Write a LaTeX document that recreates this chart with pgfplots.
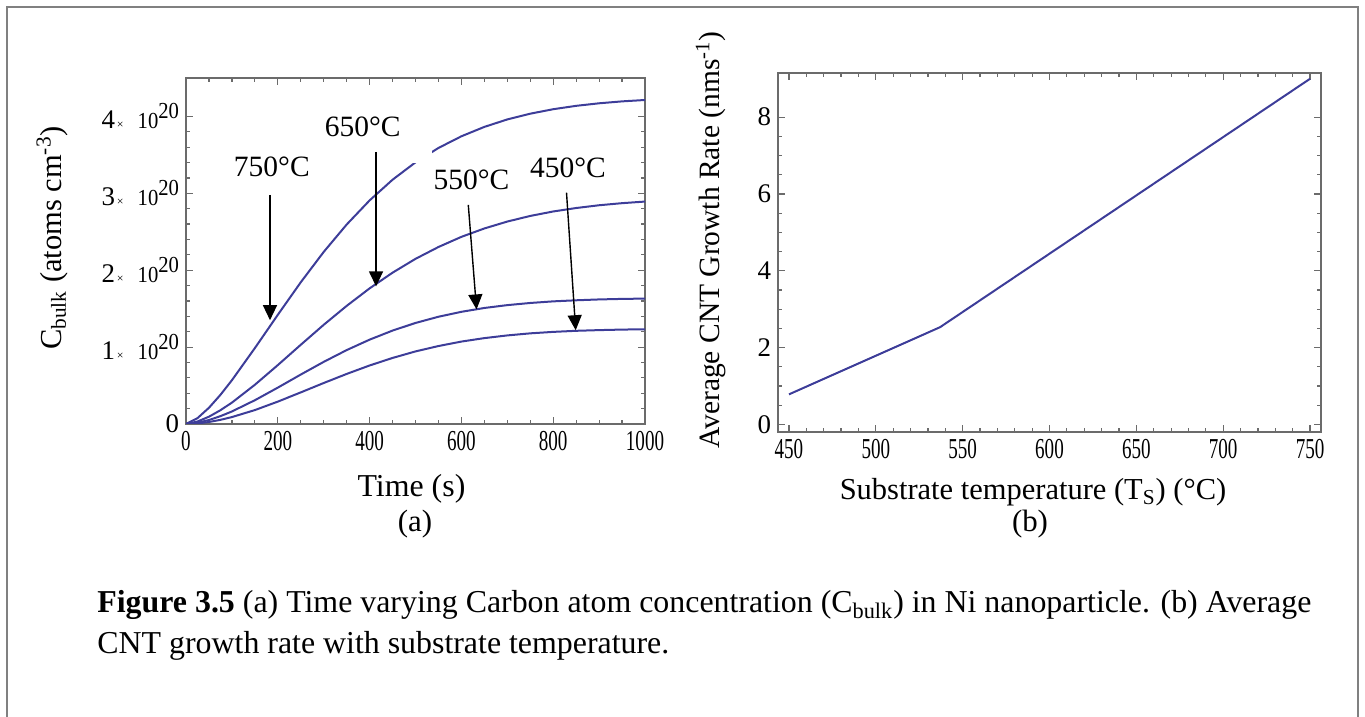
\documentclass[border=0pt]{standalone}
\usepackage{fontspec}
\setmainfont{Liberation Serif}
\usepackage{graphicx}
\usepackage{pgfplots}
\pgfplotsset{compat=1.18}
\usetikzlibrary{arrows.meta}

\definecolor{curve}{rgb}{0.24,0.24,0.6}
\definecolor{framegray}{gray}{0.42}
\definecolor{boxgray}{gray}{0.5}

% condensed tick numerals
\newcommand\cx[1]{\scalebox{0.66}[1]{#1}}
% "n x 10^20" tick labels of the concentration axis
\newcommand\ylab[1]{#1{\fontsize{6}{7}\selectfont\,×}\hspace{7bp}{\fontsize{11.5}{12}\selectfont\scalebox{0.9}[1]{10\raisebox{5bp}{20}}}}
\newcommand\tempfont{\fontsize{14.8}{16}\selectfont}

% C_bulk (10^20 atoms cm^-3) against time for the four substrate temperatures
\pgfplotstableread{
t    c750   c650   c550   c450
0    0      0      0      0
25   0.076  0.032  0.016  0.007
50   0.211  0.095  0.052  0.026
75   0.379  0.179  0.102  0.054
100  0.569  0.278  0.163  0.090
150  0.987  0.510  0.309  0.181
200  1.420  0.766  0.473  0.291
250  1.843  1.030  0.643  0.411
300  2.238  1.290  0.808  0.533
350  2.594  1.536  0.961  0.651
400  2.908  1.764  1.097  0.761
450  3.177  1.968  1.215  0.859
500  3.403  2.148  1.314  0.944
550  3.590  2.302  1.395  1.014
600  3.742  2.434  1.459  1.072
650  3.864  2.543  1.509  1.117
700  3.961  2.633  1.546  1.152
750  4.036  2.706  1.574  1.179
800  4.094  2.764  1.595  1.198
850  4.138  2.809  1.609  1.212
900  4.171  2.845  1.620  1.221
950  4.196  2.872  1.627  1.228
1000 4.214  2.893  1.631  1.232
}\cbulk

% average growth rate (nm/s) against substrate temperature
\pgfplotstableread{
T    rate
450  0.78
537  2.53
750  9.00
}\growth

\pgfplotsset{
  mmaframe/.style={
    scale only axis,
    axis line style={framegray, line width=0.7bp},
    every tick/.style={framegray, line width=0.6bp},
    tick align=inside,
    major tick length=3.6bp,
    minor tick length=2bp,
    tick label style={font=\fontsize{13.5}{14}\selectfont, black},
    xticklabel style={font=\fontsize{14.5}{15}\selectfont},
  },
}

\begin{document}
\begin{tikzpicture}
\useasboundingbox (0,0) rectangle (682.5bp,358.5bp);
\draw[boxgray, line width=0.8bp] (3.5bp,-2bp) -- (3.5bp,355bp) -- (679bp,355bp) -- (679bp,-2bp);

% (a) carbon concentration in the particle
\begin{axis}[mmaframe,
  at={(93bp,146.5bp)}, anchor=south west,
  width=229.5bp, height=173bp,
  xmin=0, xmax=1000, ymin=0, ymax=4.5,
  xtick={0,200,400,600,800,1000},
  xticklabels={\cx{0},\cx{200},\cx{400},\cx{600},\cx{800},\cx{1000}},
  ytick={0,1,2,3,4},
  yticklabels={0,\ylab{1},\ylab{2},\ylab{3},\ylab{4}},
  minor x tick num=3, minor y tick num=4,
]
\addplot[curve, line width=1bp] table[x=t, y=c750] {\cbulk};
\addplot[curve, line width=1bp] table[x=t, y=c650] {\cbulk};
\addplot[curve, line width=1bp] table[x=t, y=c550] {\cbulk};
\addplot[curve, line width=1bp] table[x=t, y=c450] {\cbulk};
% text box of the 650 label
\fill[white] (axis cs:305,3.40) rectangle (axis cs:535,4.06);
\node[font=\tempfont] at (axis cs:187,3.35) {750°C};
\node[font=\tempfont] at (axis cs:385,3.86) {650°C};
\node[font=\tempfont] at (axis cs:622,3.17) {550°C};
\node[font=\tempfont] at (axis cs:832,3.33) {450°C};
\begin{scope}[line width=0.7bp, -{Triangle[width=7bp,length=7.5bp]}]
\draw (axis cs:183,2.98) -- (axis cs:183,1.35);
\draw (axis cs:414,3.54) -- (axis cs:414,1.79);
\draw (axis cs:615,2.85) -- (axis cs:633,1.49);
\draw (axis cs:829,3.01) -- (axis cs:849,1.22);
\end{scope}
\end{axis}

% (b) growth rate
\begin{axis}[mmaframe,
  at={(389bp,142.5bp)}, anchor=south west,
  width=271.5bp, height=179.5bp,
  xmin=443.7, xmax=756.3, ymin=-0.2, ymax=9.15,
  xtick={450,500,550,600,650,700,750},
  xticklabels={\cx{450},\cx{500},\cx{550},\cx{600},\cx{650},\cx{700},\cx{750}},
  ytick={0,2,4,6,8},
  yticklabels={0,2,4,6,8},
  minor x tick num=4, minor y tick num=3,
]
\addplot[curve, line width=1bp] table[x=T, y=rate] {\growth};
\end{axis}

\node[font=\fontsize{15.3}{17}\selectfont, rotate=90] at (26bp,239.5bp) {C\textsubscript{bulk} (atoms cm\textsuperscript{-3})};
\node[font=\fontsize{14.8}{17}\selectfont, rotate=90] at (355.5bp,238.5bp) {Average CNT Growth Rate (nms\textsuperscript{-1})};
\node[font=\fontsize{16}{17}\selectfont, anchor=base] at (205.75bp,110bp) {Time (s)};
\node[font=\fontsize{15.3}{17}\selectfont, anchor=base] at (516.5bp,108.5bp) {Substrate temperature (T\textsubscript{S}) (°C)};
\node[font=\fontsize{15.5}{17}\selectfont, anchor=base] at (207.5bp,92.5bp) {(a)};
\node[font=\fontsize{15.5}{17}\selectfont, anchor=base] at (515bp,92.5bp) {(b)};
\node[font=\fontsize{16}{18}\selectfont, anchor=base west, inner sep=0pt] at (48.5bp,52bp)
  {\textbf{Figure 3.5} (a) Time varying Carbon atom concentration (C\textsubscript{bulk}) in Ni nanoparticle. (b) Average};
\node[font=\fontsize{16}{18}\selectfont, anchor=base west, inner sep=0pt] at (48.5bp,32bp)
  {CNT growth rate with substrate temperature.};
\end{tikzpicture}
\end{document}
